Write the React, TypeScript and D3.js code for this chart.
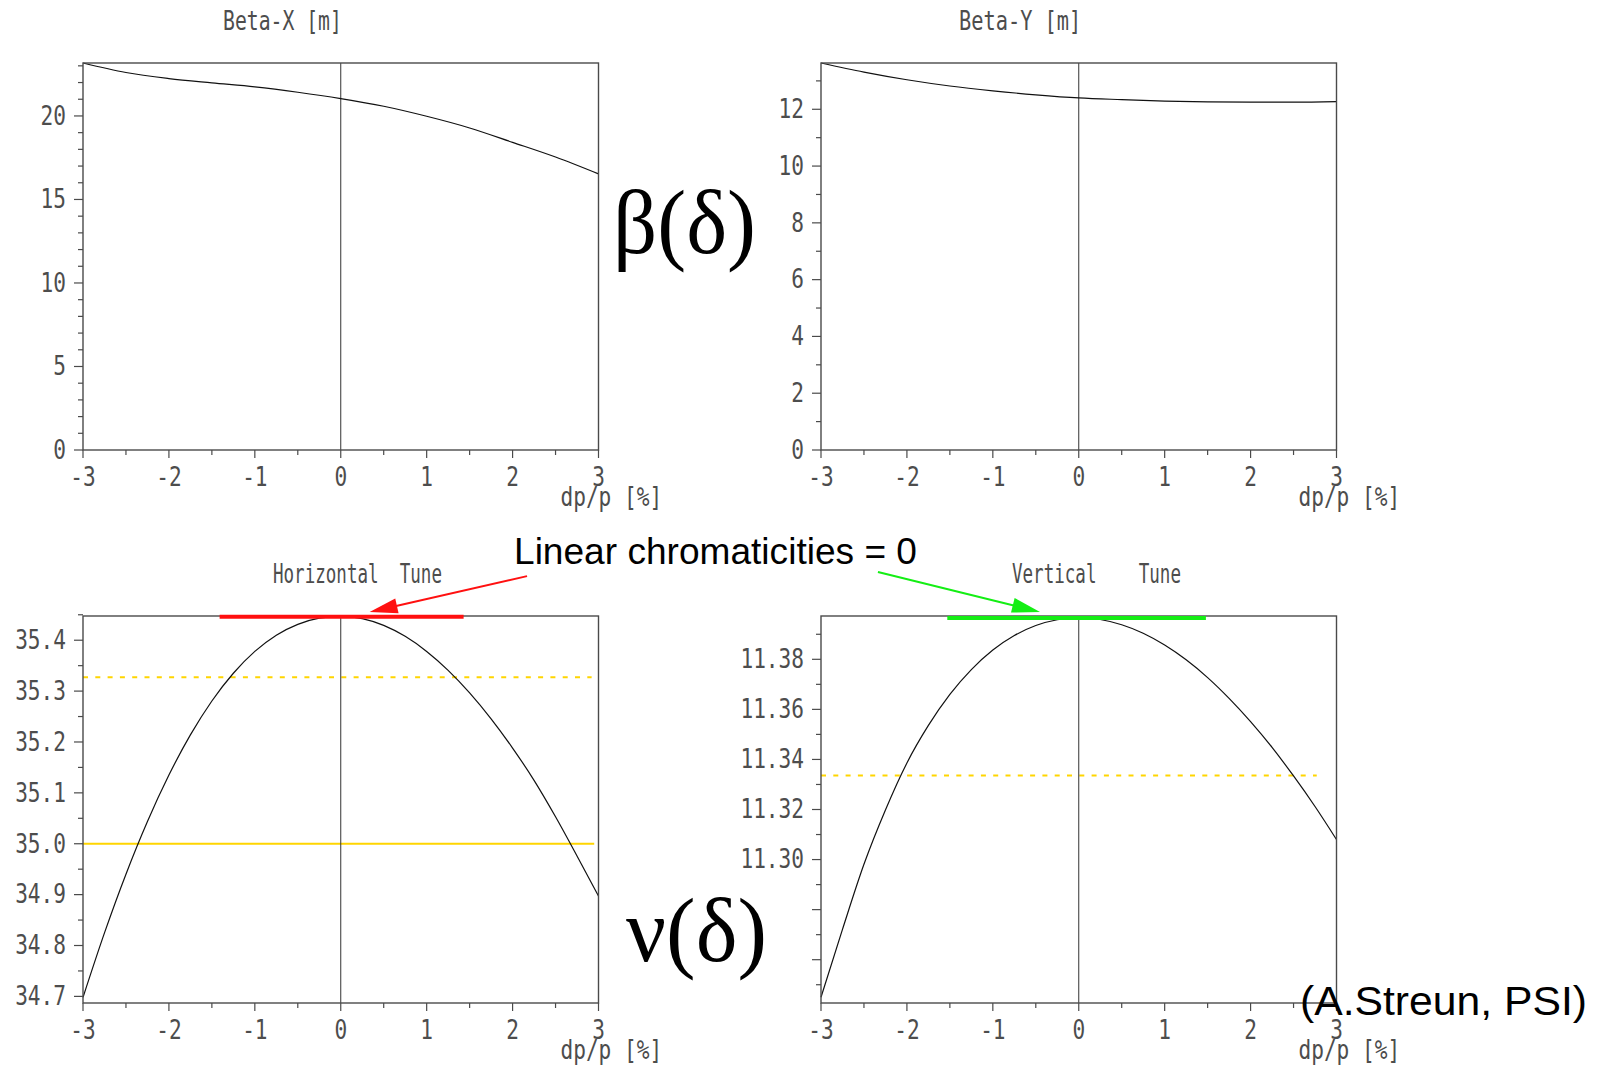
import React from 'react';
import * as d3 from 'd3';

// ---------- data ----------
const delta05 = [-3, -2.5, -2, -1.5, -1, -0.5, 0, 0.5, 1, 1.5, 2, 2.5, 3];
const betaX = [23.17, 22.6, 22.24, 21.98, 21.74, 21.42, 21.04, 20.58, 19.98, 19.28, 18.42, 17.54, 16.53];
const betaY = [13.63, 13.31, 13.04, 12.82, 12.65, 12.51, 12.4, 12.34, 12.29, 12.26, 12.25, 12.25, 12.27];

const delta025 = [-3, -2.75, -2.5, -2.25, -2, -1.75, -1.5, -1.25, -1, -0.75, -0.5, -0.25, 0,
  0.25, 0.5, 0.75, 1, 1.25, 1.5, 1.75, 2, 2.25, 2.5, 2.75, 3];
const tuneX = [34.698, 34.8248, 34.9402, 35.0437, 35.135, 35.2139, 35.2806, 35.3351, 35.378, 35.4098, 35.4312, 35.4433, 35.447,
  35.4425, 35.4292, 35.4076, 35.378, 35.3408, 35.2965, 35.2455, 35.188, 35.1246, 35.053, 34.976, 34.897];
const tuneY = [11.245, 11.2721, 11.2981, 11.3198, 11.3386, 11.3536, 11.366, 11.3759, 11.3837, 11.3895, 11.3935, 11.3958, 11.3966,
  11.3959, 11.3938, 11.3904, 11.3857, 11.3798, 11.3727, 11.3644, 11.3551, 11.3448, 11.3334, 11.3212, 11.308];

const dpMajor = [-3, -2, -1, 0, 1, 2, 3];
const dpMinor = [-2.5, -1.5, -0.5, 0.5, 1.5, 2.5];

const betaXMajor = [0, 5, 10, 15, 20];
const betaXMinor = [1, 2, 3, 4, 6, 7, 8, 9, 11, 12, 13, 14, 16, 17, 18, 19, 21, 22, 23];
const betaYMajor = [0, 2, 4, 6, 8, 10, 12];
const betaYMinor = [1, 3, 5, 7, 9, 11, 13];
const tuneXMajor = [34.7, 34.8, 34.9, 35.0, 35.1, 35.2, 35.3, 35.4];
const tuneXMinor = [34.75, 34.85, 34.95, 35.05, 35.15, 35.25, 35.35, 35.45];
const tuneYMajor = [11.26, 11.28, 11.3, 11.32, 11.34, 11.36, 11.38];
const tuneYLabeled = [11.3, 11.32, 11.34, 11.36, 11.38];
const tuneYMinor = [11.25, 11.27, 11.29, 11.31, 11.33, 11.35, 11.37, 11.39];

const domBetaX: [number, number] = [0, 23.17];
const domBetaY: [number, number] = [0, 13.63];
const domTuneX: [number, number] = [34.687, 35.4476];
const domTuneY: [number, number] = [11.2427, 11.3973];

// resonance lines [value, from, to]
const tuneXInteger = [35.0, -3, 2.95];
const tuneXThird = [35.327, -3, 2.92];
const tuneYThird = [11.3336, -3, 2.77];
// linear chromaticity bars [value, from, to]
const chromaX = [35.446, -1.41, 1.43];
const chromaY = [11.3965, -1.53, 1.48];
// annotation arrows in panel data coords [fromDelta, fromValue, toDelta, toValue]
const arrowX = [2.168, 35.526, 0.336, 35.4553];
const arrowY = [-2.337, 11.4149, -0.451, 11.3989];

// ---------- drawing ----------
const AX_FONT = "'DejaVu Sans Mono', 'Liberation Mono', monospace";
const AX_FILL = '#4d4d4d';

function AxText(props: { x: number; y: number; anchor?: string; children: React.ReactNode; len?: number }) {
  const { x, y, anchor = 'middle', children, len } = props;
  return (
    <text
      transform={`translate(${x},${y}) scale(0.88,1.08)`}
      textAnchor={anchor}
      dominantBaseline="central"
      fontFamily={AX_FONT}
      fontSize={24}
      fill={AX_FILL}
      style={{ whiteSpace: 'pre' }}
      textLength={len}
      lengthAdjust={len ? 'spacingAndGlyphs' : undefined}
    >
      {children}
    </text>
  );
}

type Sc = d3.ScaleLinear<number, number>;

function Panel(props: {
  left: number; right: number; top: number; bottom: number;
  yDomain: [number, number];
  yMajor: number[]; yLabeled: number[]; yMinor: number[]; yFmt: (v: number) => string;
  xs: number[]; ys: number[];
  title: string; titleX: number; titleLen: number; titleY: number;
  under?: (x: Sc, y: Sc) => React.ReactNode;
  over?: (x: Sc, y: Sc) => React.ReactNode;
}) {
  const { left, right, top, bottom } = props;
  const x = d3.scaleLinear().domain([-3, 3]).range([left, right]);
  const y = d3.scaleLinear().domain(props.yDomain).range([bottom, top]);
  const pts = props.xs.map((d, i) => [d, props.ys[i]] as [number, number]);
  const line = d3.line<[number, number]>().x(d => x(d[0])).y(d => y(d[1])).curve(d3.curveMonotoneX);
  const axisCol = '#4a4a4a';
  return (
    <g>
      <AxText x={props.titleX} y={props.titleY} anchor="start" len={props.titleLen}>{props.title}</AxText>
      {props.under && props.under(x, y)}
      <line x1={x(0)} x2={x(0)} y1={top} y2={bottom} stroke="#333" strokeWidth={1} />
      <path d={line(pts) || ''} fill="none" stroke="#111" strokeWidth={1.2} />
      <rect x={left} y={top} width={right - left} height={bottom - top} fill="none" stroke={axisCol} strokeWidth={1.4} />
      {props.yMajor.map(v => (
        <line key={'ym' + v} x1={left - 9} x2={left} y1={y(v)} y2={y(v)} stroke={axisCol} strokeWidth={1.2} />
      ))}
      {props.yMinor.map(v => (
        <line key={'yn' + v} x1={left - 5} x2={left} y1={y(v)} y2={y(v)} stroke={axisCol} strokeWidth={1.2} />
      ))}
      {props.yLabeled.map(v => (
        <AxText key={'yl' + v} x={left - 17} y={y(v)} anchor="end">{props.yFmt(v)}</AxText>
      ))}
      {dpMajor.map(v => (
        <line key={'xm' + v} x1={x(v)} x2={x(v)} y1={bottom} y2={bottom + 8} stroke={axisCol} strokeWidth={1.2} />
      ))}
      {dpMinor.map(v => (
        <line key={'xn' + v} x1={x(v)} x2={x(v)} y1={bottom} y2={bottom + 5} stroke={axisCol} strokeWidth={1.2} />
      ))}
      {dpMajor.map(v => (
        <AxText key={'xl' + v} x={x(v)} y={bottom + 27}>{String(v)}</AxText>
      ))}
      <AxText x={right - 38} y={bottom + 47} anchor="start">{'dp/p [%]'}</AxText>
      {props.over && props.over(x, y)}
    </g>
  );
}

function Arrow(props: { x1: number; y1: number; x2: number; y2: number; color: string }) {
  const { x1, y1, x2, y2, color } = props;
  const dx = x2 - x1, dy = y2 - y1;
  const L = Math.hypot(dx, dy);
  const ux = dx / L, uy = dy / L;
  const hl = 28, hw = 7.5;
  const bx = x2 - ux * hl, by = y2 - uy * hl;
  const p1 = [bx - uy * hw, by + ux * hw];
  const p2 = [bx + uy * hw, by - ux * hw];
  return (
    <g>
      <line x1={x1} y1={y1} x2={bx + ux * 2} y2={by + uy * 2} stroke={color} strokeWidth={2} />
      <polygon points={`${x2},${y2} ${p1[0]},${p1[1]} ${p2[0]},${p2[1]}`} fill={color} />
    </g>
  );
}

const YELLOW = '#ffd500';
const RED = '#ff1010';
const GREEN = '#14ee14';

export default function App() {
  const L1 = 83, R1 = 598.5, L2 = 821, R2 = 1336.5;
  const T1 = 63, B1 = 450, T2 = 616, B2 = 1003;
  return (
    <svg width={1603} height={1065} style={{ position: 'absolute', left: 0, top: 0, background: '#fff' }}>
      <rect x={0} y={0} width={1603} height={1065} fill="#fff" />
      <Panel left={L1} right={R1} top={T1} bottom={B1} yDomain={domBetaX}
        yMajor={betaXMajor} yLabeled={betaXMajor} yMinor={betaXMinor} yFmt={v => String(v)}
        xs={delta05} ys={betaX} title="Beta-X [m]" titleX={223} titleLen={135} titleY={21} />
      <Panel left={L2} right={R2} top={T1} bottom={B1} yDomain={domBetaY}
        yMajor={betaYMajor} yLabeled={betaYMajor} yMinor={betaYMinor} yFmt={v => String(v)}
        xs={delta05} ys={betaY} title="Beta-Y [m]" titleX={959} titleLen={139} titleY={21} />
      <Panel left={L1} right={R1} top={T2} bottom={B2} yDomain={domTuneX}
        yMajor={tuneXMajor} yLabeled={tuneXMajor} yMinor={tuneXMinor} yFmt={d3.format('.1f')}
        xs={delta025} ys={tuneX} title="Horizontal  Tune" titleX={273} titleLen={192} titleY={574}
        under={(x, y) => (
          <g>
            <line x1={x(tuneXInteger[1])} x2={x(tuneXInteger[2])} y1={y(tuneXInteger[0])} y2={y(tuneXInteger[0])} stroke={YELLOW} strokeWidth={2} />
            <line x1={x(tuneXThird[1])} x2={x(tuneXThird[2])} y1={y(tuneXThird[0])} y2={y(tuneXThird[0])} stroke={YELLOW} strokeWidth={2} strokeDasharray="5 7.3" />
          </g>
        )}
        over={(x, y) => (
          <g>
            <line x1={x(chromaX[1])} x2={x(chromaX[2])} y1={y(chromaX[0])} y2={y(chromaX[0])} stroke={RED} strokeWidth={4} />
            <Arrow x1={x(arrowX[0])} y1={y(arrowX[1])} x2={x(arrowX[2])} y2={y(arrowX[3])} color={RED} />
          </g>
        )} />
      <Panel left={L2} right={R2} top={T2} bottom={B2} yDomain={domTuneY}
        yMajor={tuneYMajor} yLabeled={tuneYLabeled} yMinor={tuneYMinor} yFmt={d3.format('.2f')}
        xs={delta025} ys={tuneY} title="Vertical    Tune" titleX={1012} titleLen={192} titleY={574}
        under={(x, y) => (
          <line x1={x(tuneYThird[1])} x2={x(tuneYThird[2])} y1={y(tuneYThird[0])} y2={y(tuneYThird[0])} stroke={YELLOW} strokeWidth={2} strokeDasharray="5 7.3" />
        )}
        over={(x, y) => (
          <g>
            <line x1={x(chromaY[1])} x2={x(chromaY[2])} y1={y(chromaY[0])} y2={y(chromaY[0])} stroke={GREEN} strokeWidth={4} />
            <Arrow x1={x(arrowY[0])} y1={y(arrowY[1])} x2={x(arrowY[2])} y2={y(arrowY[3])} color={GREEN} />
          </g>
        )} />
      <text x={613} y={253} fontFamily="'Liberation Serif', 'DejaVu Serif', serif" fontSize={90} fill="#000"
        textLength={143} lengthAdjust="spacingAndGlyphs">β(δ)</text>
      <text x={626} y={961} fontFamily="'Liberation Serif', 'DejaVu Serif', serif" fontSize={90} fill="#000"
        textLength={141} lengthAdjust="spacingAndGlyphs">ν(δ)</text>
      <text x={514} y={564} fontFamily="'Liberation Sans', Arial, sans-serif" fontSize={37} fill="#000"
        textLength={403} lengthAdjust="spacingAndGlyphs">Linear chromaticities = 0</text>
      <text x={1300} y={1015} fontFamily="'Liberation Sans', Arial, sans-serif" fontSize={41} fill="#000"
        textLength={287} lengthAdjust="spacingAndGlyphs">(A.Streun, PSI)</text>
    </svg>
  );
}
